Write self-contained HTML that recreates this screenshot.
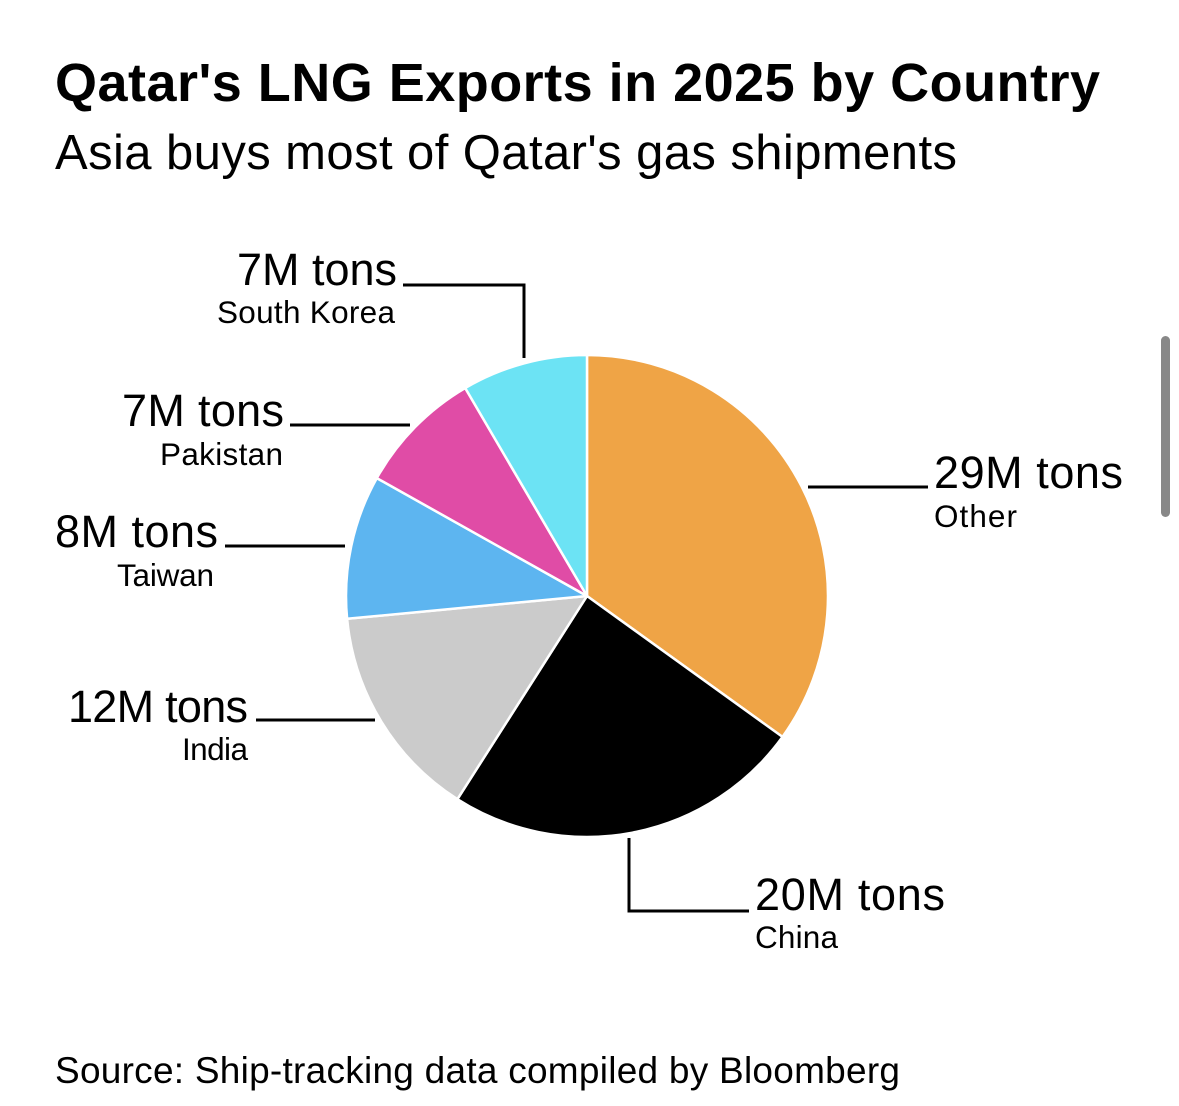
<!DOCTYPE html>
<html>
<head>
<meta charset="utf-8">
<style>
  html, body { margin:0; padding:0; background:#ffffff; }
  svg { display:block; }
  text { font-family: "Liberation Sans", Arial, sans-serif; fill:#000; }
</style>
</head>
<body>
<svg width="1179" height="1106" viewBox="0 0 1179 1106" xmlns="http://www.w3.org/2000/svg">
  <rect x="0" y="0" width="1179" height="1106" fill="#ffffff"/>

  <!-- Title & subtitle -->
  <text x="55" y="101" font-size="54" font-weight="bold" textLength="1045" lengthAdjust="spacing">Qatar's LNG Exports in 2025 by Country</text>
  <text x="55" y="169" font-size="49" textLength="902" lengthAdjust="spacing">Asia buys most of Qatar's gas shipments</text>

  <!-- Pie -->
  <g stroke="#ffffff" stroke-width="2.5" stroke-linejoin="round">
    <path d="M587,596 L587,355 A241,241 0 0 1 782.5,736.9 Z" fill="#EFA446"/>
    <path d="M587,596 L782.5,736.9 A241,241 0 0 1 457.4,799.2 Z" fill="#000000"/>
    <path d="M587,596 L457.4,799.2 A241,241 0 0 1 347.1,618.8 Z" fill="#CBCBCB"/>
    <path d="M587,596 L347.1,618.8 A241,241 0 0 1 376.8,478.1 Z" fill="#5DB5F0"/>
    <path d="M587,596 L376.8,478.1 A241,241 0 0 1 465.2,388.0 Z" fill="#E04CA6"/>
    <path d="M587,596 L465.2,388.0 A241,241 0 0 1 587,355 Z" fill="#6CE3F4"/>
  </g>

  <!-- Leader lines -->
  <g stroke="#000" stroke-width="3" fill="none">
    <polyline points="403,285 524,285 524,358"/>
    <line x1="290" y1="425" x2="410" y2="425"/>
    <line x1="225" y1="546" x2="345" y2="546"/>
    <line x1="256" y1="720" x2="375" y2="720"/>
    <line x1="808" y1="487" x2="928" y2="487"/>
    <polyline points="629,838 629,911 749,911"/>
  </g>

  <!-- Labels -->
  <text x="237" y="285" font-size="45" textLength="160" lengthAdjust="spacing">7M tons</text>
  <text x="217" y="323" font-size="31.5" textLength="178" lengthAdjust="spacing">South Korea</text>

  <text x="122" y="426" font-size="45" textLength="162" lengthAdjust="spacing">7M tons</text>
  <text x="160" y="465" font-size="31.5" textLength="123" lengthAdjust="spacing">Pakistan</text>

  <text x="55" y="547" font-size="45" textLength="163" lengthAdjust="spacing">8M tons</text>
  <text x="117" y="586" font-size="31.5" textLength="97" lengthAdjust="spacing">Taiwan</text>

  <text x="68" y="722" font-size="45" textLength="180" lengthAdjust="spacing">12M tons</text>
  <text x="182" y="760" font-size="31.5" textLength="66" lengthAdjust="spacing">India</text>

  <text x="934" y="488" font-size="45" textLength="189" lengthAdjust="spacing">29M tons</text>
  <text x="934" y="527" font-size="31.5" textLength="83" lengthAdjust="spacing">Other</text>

  <text x="755" y="910" font-size="45" textLength="190" lengthAdjust="spacing">20M tons</text>
  <text x="755" y="948" font-size="31.5" textLength="83" lengthAdjust="spacing">China</text>

  <!-- Source -->
  <text x="55" y="1083" font-size="37" textLength="845" lengthAdjust="spacing">Source: Ship-tracking data compiled by Bloomberg</text>

  <!-- Scrollbar -->
  <rect x="1161" y="336" width="9" height="181" rx="4.5" ry="4.5" fill="#888888"/>
</svg>
</body>
</html>
